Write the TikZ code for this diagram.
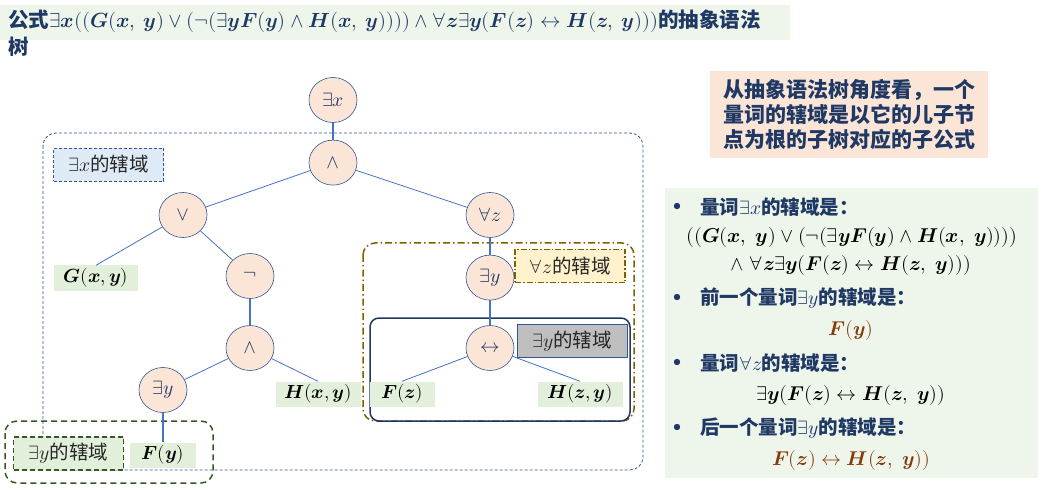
\documentclass[tikz,border=0pt]{standalone}
\usepackage{fontspec}
\usepackage{unicode-math}
\setmathfont{Latin Modern Math}
\newfontfamily\cjk{Noto Sans CJK SC}
\usetikzlibrary{positioning}
\usetikzlibrary{shapes.geometric}
\newcommand{\bv}[1]{\symbfit{#1}}
\definecolor{navy}{HTML}{1F3864}
\definecolor{edgeblue}{HTML}{4472C4}
\definecolor{nodeborder}{HTML}{2F5597}
\definecolor{peach}{HTML}{FBE5D6}
\definecolor{leafgreen}{HTML}{E2EFDA}
\definecolor{panelgreen}{HTML}{EEF5EA}
\definecolor{olive}{HTML}{7F6000}
\definecolor{darkgreen}{HTML}{385723}
\definecolor{labelblue}{HTML}{DEEBF7}
\definecolor{labelyellow}{HTML}{FFF2CC}
\definecolor{labelgray}{HTML}{BFBFBF}
\definecolor{rust}{HTML}{843C0C}
\tikzset{x=1pt, y=-1pt,
  every node/.style={align=center, inner sep=0pt, font=\cjk},
  op/.style={ % Sets the properties for each operator node
    ellipse, draw=nodeborder, fill=peach, semithick,
    minimum width=48pt, minimum height=45pt,
    text=navy, font=\cjk\fontsize{19.5}{22}\selectfont},
  leaf/.style={fill=leafgreen, minimum height=25pt,
    font=\fontsize{19}{22}\selectfont},
  scopelabel/.style={minimum width=110pt, minimum height=33pt,
    text=black!85, font=\cjk\fontsize{19.5}{22}\selectfont},
  every edge/.style={draw=edgeblue, line width=0.8pt}, % tree links
  thick link/.style={line width=1.3pt},
  bulletmark/.style={text=navy, font=\fontsize{16}{16}\selectfont},
  bullettext/.style={anchor=west, text=navy, font=\cjk\bfseries\fontsize{19.5}{23}\selectfont},
  formula/.style={font=\fontsize{20}{23}\selectfont}}

\begin{document}
\begin{tikzpicture}
  \useasboundingbox (0,0) rectangle (1046,494);

  % backgrounds
  \fill[panelgreen] (0,5) rectangle (790,40);
  \fill[panelgreen] (665,188) rectangle (1038,478);

  \node[anchor=north west, align=left, text=navy,
    font=\cjk\bfseries\fontsize{20.5}{27}\selectfont] (title) at (8,10)
    {公式$\exists\bv{x}((\bv{G}(\bv{x},\ \bv{y})\vee(\neg(\exists\bv{y}\bv{F}(\bv{y})\wedge\bv{H}(\bv{x},\ \bv{y}))))\wedge\forall\bv{z}\exists\bv{y}(\bv{F}(\bv{z})\leftrightarrow\bv{H}(\bv{z},\ \bv{y})))$的抽象语法\\树};

  % scopes
  \draw[nodeborder, line width=0.8pt, dash pattern=on 3pt off 2pt, rounded corners=13pt]
    (43,133) rectangle (643,470);
  \draw[olive, line width=1.5pt, dash pattern=on 7pt off 3pt on 1.5pt off 3pt, rounded corners=12pt]
    (363,243) rectangle (634,421);
  \draw[navy, line width=1.5pt, rounded corners=9pt]
    (370,318) rectangle (630,421);
  \draw[darkgreen, line width=1.5pt, dash pattern=on 6pt off 4pt, rounded corners=12pt]
    (5,421) rectangle (213,483);

  \node[scopelabel, fill=labelblue, draw=nodeborder, densely dashed, line width=0.8pt] (lx) at (108.5,164.5) {$\exists x$的辖域};
  \node[scopelabel, fill=labelyellow, draw=olive, line width=1.2pt, dash pattern=on 6pt off 2pt on 1.5pt off 2pt] (lz) at (570,266) {$\forall z$的辖域};
  \node[scopelabel, fill=labelgray, draw=nodeborder, line width=0.8pt] (lyr) at (572,341) {$\exists y$的辖域};
  \node[scopelabel, fill=leafgreen, draw=darkgreen, line width=1.2pt, dash pattern=on 5pt off 3pt] (lyl) at (68.5,453.5) {$\exists y$的辖域};

  % tree
  \node[op] (ex) at (333,100) {$\exists x$};
  \node[op, below=17pt of ex] (and) {$\wedge$};
  \node[op] (or) at (183,215) {$\vee$};
  \node[op] (az) at (490,215) {$\forall z$};
  \node[op] (neg) at (250,276) {$\neg$};
  \node[op, below=17pt of az] (eyr) {$\exists y$};
  \node[op] (andl) at (250,348) {$\wedge$};
  \node[op] (iff) at (490,348) {$\leftrightarrow$};
  \node[op] (eyl) at (163,390) {$\exists y$};

  \node[leaf, minimum width=84pt] (g) at (96,278) {$\bv{G}(\bv{x},\bv{y})$};
  \node[leaf, minimum width=85pt] (hxy) at (318,394) {$\bv{H}(\bv{x},\bv{y})$};
  \node[leaf, minimum width=66pt] (fy) at (163,455) {$\bv{F}(\bv{y})$};
  \node[leaf, minimum width=65pt] (fz) at (402,394) {$\bv{F}(\bv{z})$};
  \node[leaf, minimum width=85pt] (hzy) at (580,394) {$\bv{H}(\bv{z},\bv{y})$};

  \path (ex) edge[thick link] (and)
        (and) edge (or)
        (and) edge (az)
        (or) edge (g.north)
        (or) edge (neg)
        (neg) edge[thick link] (andl)
        (andl) edge (eyl)
        (andl) edge (hxy.north)
        (eyl) edge[thick link] (fy)
        (az) edge[thick link] (eyr)
        (eyr) edge[thick link] (iff)
        (iff) edge (fz.north)
        (iff) edge (hzy.north);

  % note
  \node[fill=peach, minimum width=278pt, minimum height=87pt, text=navy,
    font=\cjk\bfseries\fontsize{21}{25}\selectfont] (note) at (849,115)
    {从抽象语法树角度看，一个\\量词的辖域是以它的儿子节\\点为根的子树对应的子公式};

  % scope list
  \node[bulletmark] (d1) at (677,207) {$\bullet$};
  \node[bullettext] (s1) at (700,207) {量词\mdseries$\exists x$\bfseries 的辖域是：};
  \node[formula] (f1a) at (852,238) {$((\bv{G}(\bv{x},\ \bv{y})\vee(\neg(\exists\bv{y}\bv{F}(\bv{y})\wedge\bv{H}(\bv{x},\ \bv{y}))))$};
  \node[formula] (f1b) at (851,265) {$\mathord{\wedge}\;\forall\bv{z}\exists\bv{y}(\bv{F}(\bv{z})\leftrightarrow\bv{H}(\bv{z},\ \bv{y})))$};
  \node[bulletmark] (d2) at (677,298) {$\bullet$};
  \node[bullettext] (s2) at (700,298) {前一个量词\mdseries$\exists y$\bfseries 的辖域是：};
  \node[formula, text=rust] (f2) at (851,330) {$\bv{F}(\bv{y})$};
  \node[bulletmark] (d3) at (677,363) {$\bullet$};
  \node[bullettext] (s3) at (700,363) {量词\mdseries$\forall z$\bfseries 的辖域是：};
  \node[formula] (f3) at (851,395) {$\exists\bv{y}(\bv{F}(\bv{z})\leftrightarrow\bv{H}(\bv{z},\ \bv{y}))$};
  \node[bulletmark] (d4) at (677,428) {$\bullet$};
  \node[bullettext] (s4) at (700,428) {后一个量词\mdseries$\exists y$\bfseries 的辖域是：};
  \node[formula, text=rust] (f4) at (851,460) {$\bv{F}(\bv{z})\leftrightarrow\bv{H}(\bv{z},\ \bv{y}))$};
\end{tikzpicture}
\end{document}
